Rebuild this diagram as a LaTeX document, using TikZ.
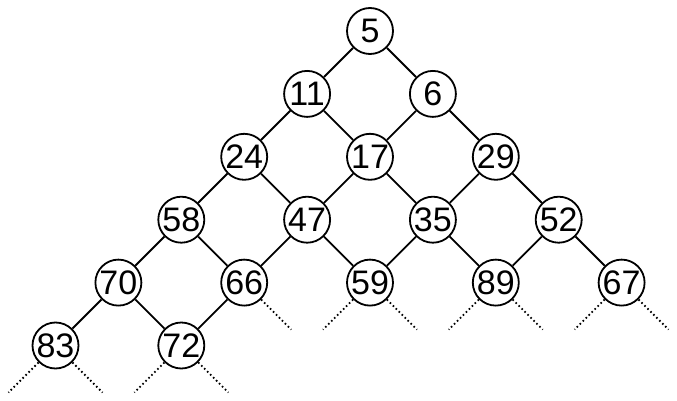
\documentclass[tikz,border=0pt]{standalone}
\usepackage{fontspec}
\setmainfont{Liberation Sans}
\begin{document}
\begin{tikzpicture}[x=1pt,y=-1pt,
  key/.style={circle,draw,line width=1.8pt,minimum size=46pt,inner sep=0pt,font=\fontsize{34}{34}\selectfont},
  edge/.style={line width=1.8pt},
  dots/.style={line width=1.8pt,dash pattern=on 1.6pt off 2.6pt}]
\useasboundingbox (0,0) rectangle (677,401);
\node[key] (n5)  at (370,31) {5};
\node[key] (n11) at (307.1,93.9) {11};
\node[key] (n6)  at (432.9,93.9) {6};
\node[key] (n24) at (244.2,156.8) {24};
\node[key] (n17) at (370,156.8) {17};
\node[key] (n29) at (495.8,156.8) {29};
\node[key] (n58) at (181.3,219.7) {58};
\node[key] (n47) at (307.1,219.7) {47};
\node[key] (n35) at (432.9,219.7) {35};
\node[key] (n52) at (558.7,219.7) {52};
\node[key] (n70) at (118.4,282.6) {70};
\node[key] (n66) at (244.2,282.6) {66};
\node[key] (n59) at (370,282.6) {59};
\node[key] (n89) at (495.8,282.6) {89};
\node[key] (n67) at (621.6,282.6) {67};
\node[key] (n83) at (55.5,345.5) {83};
\node[key] (n72) at (181.3,345.5) {72};
\foreach \a/\b in {n5/n11,n5/n6,n11/n24,n11/n17,n6/n17,n6/n29,n24/n58,n24/n47,n17/n47,n17/n35,n29/n35,n29/n52,n58/n70,n58/n66,n47/n66,n47/n59,n35/n59,n35/n89,n52/n89,n52/n67,n70/n83,n70/n72,n66/n72}
  \draw[edge] (\a) -- (\b);
% dotted free ends
\coordinate (r66) at (291.2,329.6);
\coordinate (l59) at (323,329.6);
\coordinate (r59) at (417,329.6);
\coordinate (l89) at (448.8,329.6);
\coordinate (r89) at (542.8,329.6);
\coordinate (l67) at (574.6,329.6);
\coordinate (r67) at (668.6,329.6);
\coordinate (l83) at (8.5,392.5);
\coordinate (r83) at (102.5,392.5);
\coordinate (l72) at (134.3,392.5);
\coordinate (r72) at (228.3,392.5);
\foreach \a/\b in {n66/r66,n59/l59,n59/r59,n89/l89,n89/r89,n67/l67,n67/r67,n83/l83,n83/r83,n72/l72,n72/r72}
  \draw[dots] (\a) -- (\b);
\end{tikzpicture}
\end{document}
